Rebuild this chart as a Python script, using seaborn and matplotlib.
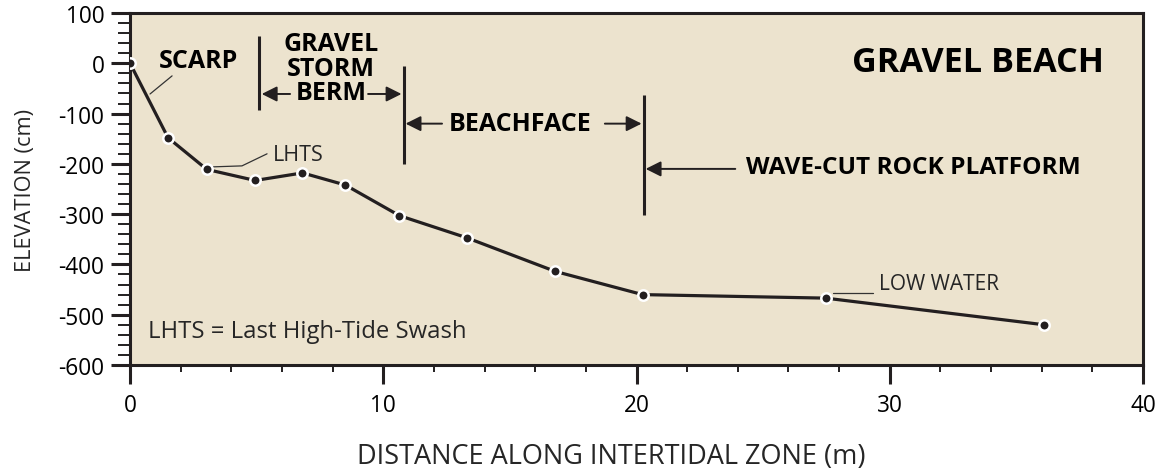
# =========================================================
# GRAVEL BEACH PROFILE
# =========================================================

import numpy as np
import pandas as pd
import matplotlib
matplotlib.use("Agg")
import matplotlib.pyplot as plt
import seaborn as sns
from matplotlib.ticker import MultipleLocator

# profile survey points
distance_m = [0.0, 1.5, 3.03, 4.94, 6.81, 8.5, 10.64, 13.3, 16.8, 20.24, 27.47, 36.1]
elevation_cm = [0, -148, -211, -233, -218, -242, -303, -347, -414, -460, -467, -520]

# zone boundaries (x, top, bottom)
boundary_x = [5.11, 10.8, 20.28]
boundary_top = [54, -5, -64]
boundary_bottom = [-92, -200, -301]

BG = "#ECE3CE"
INK = "#231F20"

df = pd.DataFrame({"distance": distance_m, "elevation": elevation_cm})

sns.set_style("ticks")
plt.rcParams["font.family"] = ["Open Sans", "DejaVu Sans"]
plt.rcParams["axes.unicode_minus"] = False

fig = plt.figure(figsize=(11.59, 4.77), dpi=100)
ax = fig.add_axes([0.1122, 0.2327, 0.8740, 0.7379])
ax.set_facecolor(BG)

sns.lineplot(
    data=df,
    x="distance",
    y="elevation",
    color=INK,
    linewidth=2.3,
    marker="o",
    markersize=7.5,
    markerfacecolor=INK,
    markeredgecolor="white",
    markeredgewidth=1.8,
    sort=False,
    ax=ax,
    zorder=5
)

# zone boundaries
ax.vlines(boundary_x, boundary_bottom, boundary_top, color=INK, linewidth=2.2)

arrow = dict(arrowstyle="-|>", color=INK, lw=1.4, mutation_scale=23,
             shrinkA=0, shrinkB=0)

def zone_arrow(x_tail, x_head, y):
    ax.annotate("", xy=(x_head, y), xytext=(x_tail, y), arrowprops=arrow)

# gravel storm berm
zone_arrow(6.32, 5.2, -61)
zone_arrow(9.40, 10.72, -61)
# beachface
zone_arrow(12.32, 10.88, -120)
zone_arrow(18.75, 20.2, -120)
# wave-cut platform
zone_arrow(23.9, 20.36, -210)

bold = dict(fontweight="bold", color="black", ha="center", va="center")

ax.text(33.48, 3, "GRAVEL BEACH", fontsize=24.6, **bold)
ax.text(2.70, 5, "SCARP", fontsize=18, **bold)
ax.text(7.94, -10, "GRAVEL\nSTORM\nBERM", fontsize=18, linespacing=0.98, **bold)
ax.text(15.42, -120, "BEACHFACE", fontsize=18, **bold)
ax.text(30.95, -206, "WAVE-CUT ROCK PLATFORM", fontsize=17.6, **bold)

# thin leader lines
lead = dict(color="#333333", linewidth=0.9)
ax.plot([0.79, 1.66], [-61, -25], **lead)
ax.plot([3.24, 4.42, 5.41], [-206, -204, -180], **lead)
ax.plot([27.75, 29.33], [-456, -456], **lead)

ax.text(5.65, -181, "LHTS", fontsize=15.5, ha="left", va="center")
ax.text(29.57, -438, "LOW WATER", fontsize=15, ha="left", va="center")
ax.text(0.71, -532, "LHTS = Last High-Tide Swash", fontsize=17.2, ha="left", va="center")

# axes
ax.set_xlim(0, 40)
ax.set_ylim(-600, 100)
ax.xaxis.set_major_locator(MultipleLocator(10))
ax.xaxis.set_minor_locator(MultipleLocator(2))
ax.yaxis.set_major_locator(MultipleLocator(100))
ax.yaxis.set_minor_locator(MultipleLocator(20))

for side in ["left", "right", "top", "bottom"]:
    ax.spines[side].set_visible(True)
    ax.spines[side].set_color(INK)
    ax.spines[side].set_linewidth(2.2)

ax.tick_params(which="major", length=13.5, width=2.2, color=INK,
               labelsize=16.3, labelcolor="black")
ax.tick_params(axis="x", which="major", pad=7)
ax.tick_params(axis="y", which="major", pad=5)
ax.tick_params(axis="x", which="minor", length=5, width=1.4, color=INK)
ax.tick_params(axis="y", which="minor", length=8.5, width=1.4, color=INK)
ax.tick_params(top=False, right=False, which="both")

ax.set_xlabel("DISTANCE ALONG INTERTIDAL ZONE (m)", fontsize=19.5, labelpad=18)
ax.xaxis.label.set_x(0.475)
ax.set_ylabel("ELEVATION (cm)", fontsize=15.7, labelpad=16)

fig.savefig("out.png", dpi=100, facecolor="white")
